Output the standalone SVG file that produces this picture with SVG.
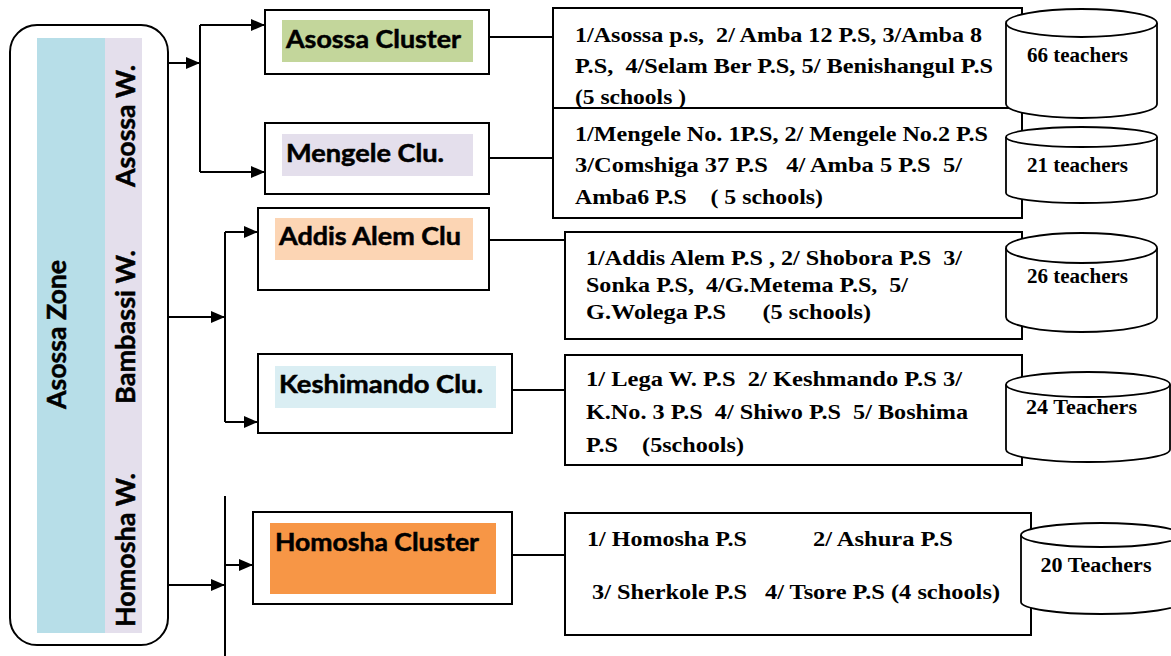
<svg xmlns="http://www.w3.org/2000/svg" width="1171" height="656" viewBox="0 0 1171 656">
<style>
.box{fill:#fff;stroke:#000;stroke-width:2}
.cyl{fill:#fff;stroke:#000;stroke-width:1.8}
.ln{fill:none;stroke:#000;stroke-width:2}
.lbl{font-family:Lato,"Open Sans","Liberation Sans",sans-serif;font-weight:bold;font-size:24px;fill:#000;stroke:#000;stroke-width:0.5}
.vt{font-family:Lato,"Open Sans","Liberation Sans",sans-serif;font-weight:bold;font-size:26px;fill:#000;stroke:#000;stroke-width:0.5}
.st{font-family:"Liberation Serif","Times New Roman",serif;font-weight:bold;font-size:22px;fill:#000;white-space:pre}
.ct{font-family:"Liberation Serif","Times New Roman",serif;font-weight:bold;font-size:20.5px;fill:#000;text-anchor:middle}
</style>
<defs>
<marker id="ah" markerUnits="userSpaceOnUse" markerWidth="14" markerHeight="12" viewBox="0 0 14 12" refX="14" refY="6" orient="auto">
<path d="M0,0 L14,6 L0,12 z" fill="#000"/>
</marker>
</defs>
<rect width="1171" height="656" fill="#fff"/>

<g id="zone">
<rect x="10" y="25" width="158" height="620" rx="27" ry="27" class="box"/>
<rect x="37" y="38" width="68" height="595" fill="#B7DEE8"/>
<rect x="105" y="38" width="37" height="595" fill="#E4DFEC"/>
<text class="vt" transform="translate(66,334.5) rotate(-90)" text-anchor="middle" textLength="149" lengthAdjust="spacingAndGlyphs">Asossa Zone</text>
<text class="vt" transform="translate(135,126) rotate(-90)" text-anchor="middle" textLength="122" lengthAdjust="spacingAndGlyphs">Asossa W.</text>
<text class="vt" transform="translate(135,327) rotate(-90)" text-anchor="middle" textLength="154" lengthAdjust="spacingAndGlyphs">Bambassi W.</text>
<text class="vt" transform="translate(135,550) rotate(-90)" text-anchor="middle" textLength="154" lengthAdjust="spacingAndGlyphs">Homosha W.</text>
</g>

<g id="connectors">
<path class="ln" d="M168,63 H200" marker-end="url(#ah)"/>
<path class="ln" d="M200,25 V172"/>
<path class="ln" d="M200,25 H265" marker-end="url(#ah)"/>
<path class="ln" d="M200,172 H265" marker-end="url(#ah)"/>
<path class="ln" d="M489,37 H553"/>
<path class="ln" d="M489,158 H553"/>
<path class="ln" d="M168,317 H225" marker-end="url(#ah)"/>
<path class="ln" d="M225,232 V422"/>
<path class="ln" d="M225,232 H258" marker-end="url(#ah)"/>
<path class="ln" d="M225,422 H258" marker-end="url(#ah)"/>
<path class="ln" d="M489,240 H565"/>
<path class="ln" d="M512,390 H565"/>
<path class="ln" d="M168,585 H225" marker-end="url(#ah)"/>
<path class="ln" d="M225,496 V656"/>
<path class="ln" d="M225,565 H253" marker-end="url(#ah)"/>
<path class="ln" d="M512,555 H565"/>
</g>

<g id="asossa-cluster">
<rect x="265" y="10" width="224" height="64" class="box"/>
<rect x="282" y="20" width="191" height="42" fill="#C3D69B"/>
<text class="lbl" x="286" y="48" textLength="175" lengthAdjust="spacingAndGlyphs">Asossa Cluster</text>
</g>
<g id="mengele-cluster">
<rect x="265" y="123" width="224" height="71" class="box"/>
<rect x="282" y="134" width="191" height="42" fill="#E4DFEC"/>
<text class="lbl" x="286" y="162" textLength="158" lengthAdjust="spacingAndGlyphs">Mengele Clu.</text>
</g>
<g id="addis-cluster">
<rect x="258" y="208" width="231" height="82" class="box"/>
<rect x="275" y="218" width="198" height="42" fill="#FCD5B4"/>
<text class="lbl" x="279" y="245" textLength="182" lengthAdjust="spacingAndGlyphs">Addis Alem Clu</text>
</g>
<g id="keshimando-cluster">
<rect x="258" y="354" width="254" height="79" class="box"/>
<rect x="275" y="366" width="221" height="42" fill="#DAEEF3"/>
<text class="lbl" x="279" y="393" textLength="204" lengthAdjust="spacingAndGlyphs">Keshimando Clu.</text>
</g>
<g id="homosha-cluster">
<rect x="253" y="512" width="259" height="92" class="box"/>
<rect x="270" y="523" width="226" height="71" fill="#F79646"/>
<text class="lbl" x="275" y="551" textLength="204" lengthAdjust="spacingAndGlyphs">Homosha Cluster</text>
</g>

<g id="asossa-schools">
<rect x="553" y="8" width="469" height="100" class="box"/>
<text class="st" x="575" y="42" textLength="407" lengthAdjust="spacingAndGlyphs">1/Asossa p.s,  2/ Amba 12 P.S, 3/Amba 8</text>
<text class="st" x="575" y="73" textLength="418" lengthAdjust="spacingAndGlyphs">P.S,  4/Selam Ber P.S, 5/ Benishangul P.S</text>
<text class="st" x="575" y="104" textLength="111" lengthAdjust="spacingAndGlyphs">(5 schools )</text>
</g>
<g id="mengele-schools">
<rect x="553" y="108" width="469" height="110" class="box"/>
<text class="st" x="575" y="141" textLength="413" lengthAdjust="spacingAndGlyphs">1/Mengele No. 1P.S, 2/ Mengele No.2 P.S</text>
<text class="st" x="575" y="172" textLength="387" lengthAdjust="spacingAndGlyphs">3/Comshiga 37 P.S   4/ Amba 5 P.S  5/</text>
<text class="st" x="575" y="204" textLength="248" lengthAdjust="spacingAndGlyphs">Amba6 P.S    ( 5 schools)</text>
</g>
<g id="addis-schools">
<rect x="565" y="232" width="457" height="107" class="box"/>
<text class="st" x="586" y="265" textLength="376" lengthAdjust="spacingAndGlyphs">1/Addis Alem P.S , 2/ Shobora P.S  3/</text>
<text class="st" x="586" y="292" textLength="322" lengthAdjust="spacingAndGlyphs">Sonka P.S,  4/G.Metema P.S,  5/</text>
<text class="st" x="586" y="319" textLength="285" lengthAdjust="spacingAndGlyphs">G.Wolega P.S      (5 schools)</text>
</g>
<g id="keshimando-schools">
<rect x="565" y="355" width="457" height="110" class="box"/>
<text class="st" x="586" y="386" textLength="376" lengthAdjust="spacingAndGlyphs">1/ Lega W. P.S  2/ Keshmando P.S 3/</text>
<text class="st" x="586" y="419" textLength="382" lengthAdjust="spacingAndGlyphs">K.No. 3 P.S  4/ Shiwo P.S  5/ Boshima</text>
<text class="st" x="586" y="452" textLength="158" lengthAdjust="spacingAndGlyphs">P.S    (5schools)</text>
</g>
<g id="homosha-schools">
<rect x="565" y="513" width="466" height="122" class="box"/>
<text class="st" x="587" y="546" textLength="160" lengthAdjust="spacingAndGlyphs">1/ Homosha P.S</text>
<text class="st" x="813" y="546" textLength="140" lengthAdjust="spacingAndGlyphs">2/ Ashura P.S</text>
<text class="st" x="592" y="599" textLength="155" lengthAdjust="spacingAndGlyphs">3/ Sherkole P.S</text>
<text class="st" x="765" y="599" textLength="235" lengthAdjust="spacingAndGlyphs">4/ Tsore P.S (4 schools)</text>
</g>

<g id="cyl-66">
<path class="cyl" d="M1006,23 V104 A75.5,14 0 0 0 1157,104 V23"/>
<ellipse class="cyl" cx="1081.5" cy="23" rx="75.5" ry="14"/>
<text class="ct" x="1077.5" y="62" textLength="101" lengthAdjust="spacingAndGlyphs">66 teachers</text>
</g>
<g id="cyl-21">
<path class="cyl" d="M1006,137 V193 A75.5,10 0 0 0 1157,193 V137"/>
<ellipse class="cyl" cx="1081.5" cy="137" rx="75.5" ry="10"/>
<text class="ct" x="1077.5" y="172" textLength="101" lengthAdjust="spacingAndGlyphs">21 teachers</text>
</g>
<g id="cyl-26">
<path class="cyl" d="M1006,248 V317 A75.5,15 0 0 0 1157,317 V248"/>
<ellipse class="cyl" cx="1081.5" cy="248" rx="75.5" ry="15"/>
<text class="ct" x="1077.5" y="283" textLength="101" lengthAdjust="spacingAndGlyphs">26 teachers</text>
</g>
<g id="cyl-24">
<path class="cyl" d="M1006,384.5 V449.5 A82,12.5 0 0 0 1170,449.5 V384.5"/>
<ellipse class="cyl" cx="1088" cy="384.5" rx="82" ry="12.5"/>
<text class="ct" x="1081.5" y="414" textLength="111" lengthAdjust="spacingAndGlyphs">24 Teachers</text>
</g>
<g id="cyl-20">
<path class="cyl" d="M1021,535 V602 A80,12 0 0 0 1181,602 V535"/>
<ellipse class="cyl" cx="1101" cy="535" rx="80" ry="12"/>
<text class="ct" x="1096" y="572" textLength="111" lengthAdjust="spacingAndGlyphs">20 Teachers</text>
</g>
</svg>
